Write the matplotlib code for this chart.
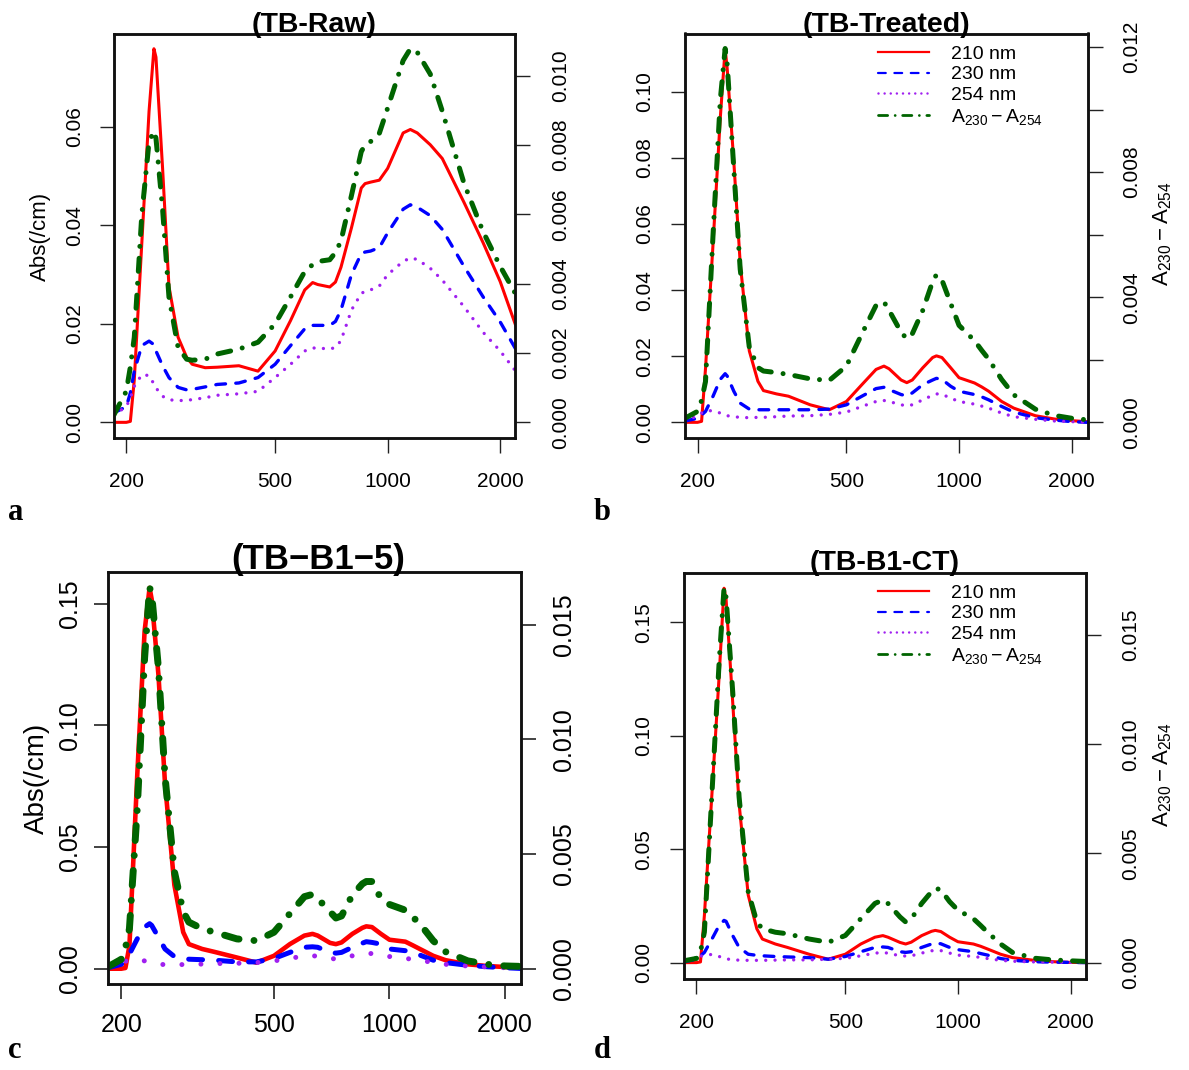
import matplotlib
matplotlib.use("Agg")
import matplotlib.pyplot as plt
from matplotlib.lines import Line2D
from matplotlib.ticker import NullLocator

plt.rcParams['font.family'] = ['Liberation Sans', 'DejaVu Sans']
plt.rcParams['mathtext.fontset'] = 'custom'
plt.rcParams['mathtext.rm'] = 'Liberation Sans'
plt.rcParams['mathtext.it'] = 'Liberation Sans:italic'
plt.rcParams['mathtext.bf'] = 'Liberation Sans:bold'
plt.rcParams['lines.scale_dashes'] = False

# ---------------- data ----------------
mw_da = [185, 200, 205, 210, 220, 230, 237, 240, 250, 260,
         275, 290, 300, 325, 350, 400, 450, 500, 550, 600,
         630, 650, 700, 725, 750, 800, 850, 870, 900, 950,
         1000, 1100, 1150, 1200, 1300, 1400, 1600, 1800, 2000, 2200]

raw_210 = [0, 0, 0.0002, 0.0086, 0.0365, 0.0632, 0.0759, 0.0742, 0.0516, 0.0276,
           0.0173, 0.0132, 0.0118, 0.0111, 0.0112, 0.0115, 0.0104, 0.0145, 0.0207, 0.0269,
           0.0284, 0.0280, 0.0275, 0.0285, 0.0315, 0.0395, 0.0476, 0.0485, 0.0488, 0.0492,
           0.0516, 0.0588, 0.0595, 0.0588, 0.0564, 0.0536, 0.0447, 0.0365, 0.0286, 0.0197]
raw_230 = [0.0019, 0.0032, 0.0060, 0.0104, 0.0156, 0.0165, 0.0158, 0.0145, 0.0115, 0.0091,
           0.0071, 0.0066, 0.0067, 0.0072, 0.0077, 0.0080, 0.0091, 0.0118, 0.0156, 0.0190,
           0.0197, 0.0197, 0.0197, 0.0205, 0.0228, 0.0300, 0.0343, 0.0346, 0.0348, 0.0355,
           0.0385, 0.0433, 0.0442, 0.0437, 0.0420, 0.0392, 0.0317, 0.0255, 0.0204, 0.0149]
raw_254 = [0.0015, 0.0032, 0.0050, 0.0073, 0.0097, 0.0095, 0.0078, 0.0070, 0.0053, 0.0046,
           0.0044, 0.0045, 0.0046, 0.0050, 0.0055, 0.0058, 0.0063, 0.0091, 0.0118, 0.0145,
           0.0151, 0.0151, 0.0149, 0.0152, 0.0166, 0.0228, 0.0262, 0.0266, 0.0269, 0.0277,
           0.0300, 0.0327, 0.0334, 0.0331, 0.0313, 0.0289, 0.0235, 0.0183, 0.0145, 0.0104]
raw_diff = [0.0002, 0.0009, 0.0016, 0.00245, 0.0060, 0.0081, 0.0084, 0.0082, 0.00615, 0.00362,
            0.00216, 0.00182, 0.00179, 0.00182, 0.00197, 0.00211, 0.00231, 0.00284, 0.00362, 0.00435,
            0.00455, 0.00464, 0.00469, 0.0049, 0.00523, 0.00654, 0.00781, 0.0080, 0.0081, 0.00834,
            0.00907, 0.01044, 0.01078, 0.01068, 0.01005, 0.00898, 0.0069, 0.0055, 0.0045, 0.0037]

treated_210 = [0, 0, 0.0003, 0.0162, 0.054, 0.092, 0.113, 0.107, 0.0788, 0.0482,
               0.0216, 0.0124, 0.0096, 0.0086, 0.0079, 0.0053, 0.0038, 0.0063, 0.0114, 0.0160,
               0.0170, 0.0162, 0.0128, 0.0120, 0.0128, 0.0165, 0.0196, 0.0201, 0.0196, 0.0165,
               0.0135, 0.0119, 0.0107, 0.0094, 0.0063, 0.0043, 0.0020, 0.0010, 0.0005, 0.0002]
treated_230 = [0.0004, 0.0012, 0.0022, 0.0033, 0.0079, 0.0130, 0.0147, 0.0140, 0.0094, 0.0058,
               0.0040, 0.0038, 0.0038, 0.0038, 0.0038, 0.0038, 0.0040, 0.0053, 0.0079, 0.0102,
               0.0106, 0.0099, 0.0084, 0.0080, 0.0089, 0.0114, 0.0128, 0.0133, 0.0130, 0.0109,
               0.0094, 0.0084, 0.0077, 0.0068, 0.0048, 0.0031, 0.0014, 0.0007, 0.0002, 0.0000]
treated_254 = [0.0004, 0.0020, 0.0028, 0.0035, 0.0035, 0.0028, 0.0022, 0.0020, 0.0017, 0.0015,
               0.0014, 0.0015, 0.0015, 0.0017, 0.0019, 0.0020, 0.0024, 0.0031, 0.0048, 0.0063,
               0.0066, 0.0063, 0.0053, 0.0050, 0.0053, 0.0068, 0.0082, 0.0086, 0.0085, 0.0073,
               0.0063, 0.0055, 0.0049, 0.0043, 0.0028, 0.0017, 0.0009, 0.0004, 0.0002, 0.0000]
treated_diff = [0.00013, 0.00035, 0.0007, 0.0013, 0.0060, 0.0103, 0.01195, 0.01146, 0.0081, 0.0049,
                0.0024, 0.00175, 0.00164, 0.00159, 0.00153, 0.00139, 0.00134, 0.0018, 0.00283, 0.00374,
                0.00385, 0.00358, 0.00288, 0.00267, 0.00283, 0.00358, 0.0045, 0.00472, 0.00455, 0.0038,
                0.0031, 0.00261, 0.0023, 0.00202, 0.00137, 0.00088, 0.00042, 0.00022, 0.00013, 0.00008]

b15_210 = [0, 0, 0.0003, 0.0094, 0.0789, 0.1386, 0.1565, 0.1518, 0.1206, 0.0761,
           0.0344, 0.0150, 0.0101, 0.0081, 0.0069, 0.0046, 0.0025, 0.0053, 0.0101, 0.0136,
           0.0143, 0.0136, 0.0106, 0.0101, 0.0108, 0.0143, 0.0168, 0.0174, 0.0171, 0.0143,
           0.0119, 0.0111, 0.0096, 0.0081, 0.0053, 0.0035, 0.0018, 0.0011, 0.0007, 0.0004]
b15_230 = [0.0004, 0.0018, 0.0035, 0.0060, 0.0122, 0.0171, 0.0185, 0.0178, 0.0129, 0.0081,
           0.0050, 0.0042, 0.0039, 0.0037, 0.0035, 0.0028, 0.0028, 0.0042, 0.0067, 0.0088,
           0.0090, 0.0088, 0.0067, 0.0064, 0.0067, 0.0088, 0.0105, 0.0111, 0.0108, 0.0101,
           0.0081, 0.0074, 0.0065, 0.0056, 0.0035, 0.0025, 0.0014, 0.0008, 0.0004, 0.0001]
b15_254 = [0.0004, 0.0018, 0.0030, 0.0039, 0.0039, 0.0032, 0.0025, 0.0023, 0.0018, 0.0017,
           0.0017, 0.0017, 0.0017, 0.0019, 0.0021, 0.0022, 0.0025, 0.0032, 0.0042, 0.0053,
           0.0054, 0.0050, 0.0042, 0.0040, 0.0042, 0.0053, 0.0061, 0.0064, 0.0062, 0.0056,
           0.0050, 0.0042, 0.0039, 0.0035, 0.0025, 0.0018, 0.0011, 0.0007, 0.0004, 0.0003]
b15_diff = [0.00009, 0.00041, 0.0009, 0.00174, 0.0069, 0.01353, 0.01662, 0.01633, 0.01308, 0.00837,
            0.00424, 0.00248, 0.00203, 0.00174, 0.00159, 0.0013, 0.00122, 0.00159, 0.0024, 0.00314,
            0.00324, 0.00306, 0.00248, 0.00221, 0.0023, 0.00321, 0.0037, 0.0038, 0.0038, 0.00306,
            0.0028, 0.00255, 0.00225, 0.00196, 0.00122, 0.00074, 0.00034, 0.00019, 0.00012, 0.0001]

ct_210 = [0, 0, 0.0003, 0.0208, 0.0745, 0.1266, 0.1650, 0.1601, 0.1147, 0.0700,
          0.0298, 0.0149, 0.0104, 0.0082, 0.0067, 0.0037, 0.0015, 0.0037, 0.0082, 0.0112,
          0.0119, 0.0112, 0.0089, 0.0082, 0.0090, 0.0119, 0.0138, 0.0142, 0.0137, 0.0112,
          0.0092, 0.0082, 0.0072, 0.0060, 0.0037, 0.0022, 0.0010, 0.0004, 0.0001, 0.0000]
ct_230 = [0.0003, 0.0015, 0.0030, 0.0045, 0.0104, 0.0164, 0.0186, 0.0182, 0.0119, 0.0067,
          0.0037, 0.0032, 0.0030, 0.0027, 0.0025, 0.0022, 0.0015, 0.0027, 0.0048, 0.0067,
          0.0069, 0.0067, 0.0048, 0.0045, 0.0048, 0.0067, 0.0082, 0.0086, 0.0083, 0.0067,
          0.0057, 0.0048, 0.0040, 0.0033, 0.0018, 0.0010, 0.0004, 0.0002, 0.0001, 0.0000]
ct_254 = [0.0004, 0.0018, 0.0028, 0.0033, 0.0036, 0.0027, 0.0019, 0.0017, 0.0012, 0.0011,
          0.0010, 0.0010, 0.0010, 0.0011, 0.0012, 0.0012, 0.0015, 0.0019, 0.0030, 0.0042,
          0.0044, 0.0042, 0.0030, 0.0029, 0.0030, 0.0042, 0.0052, 0.0055, 0.0053, 0.0042,
          0.0033, 0.0027, 0.0023, 0.0018, 0.0010, 0.0006, 0.0003, 0.0002, 0.0001, 0.0000]
ct_diff = [0.00008, 0.00019, 0.0005, 0.0014, 0.00775, 0.01379, 0.01717, 0.01674, 0.0124, 0.00759,
           0.00325, 0.00186, 0.00155, 0.00139, 0.00132, 0.00108, 0.00093, 0.00124, 0.00201, 0.00271,
           0.00287, 0.00271, 0.00209, 0.00186, 0.0020, 0.00271, 0.00325, 0.00341, 0.00333, 0.00279,
           0.0024, 0.00201, 0.0017, 0.00139, 0.00085, 0.00046, 0.0002, 0.00012, 0.00008, 0.00005]

x_ticks = [200, 500, 1000, 2000]
x_tick_labels = ['200', '500', '1000', '2000']
legend_labels = ['210 nm', '230 nm', '254 nm', r'$\mathrm{A_{230} - A_{254}}$']

# ---------------- layout ----------------
W, H = 1189, 1070
RED, BLUE, PURPLE, GREEN = '#FF0000', '#0000FF', '#A020F0', '#006400'


def rect(l, t, r, b):
    return [l / W, 1 - b / H, (r - l) / W, (b - t) / H]


thin = dict(red=dict(lw=2.2), blue=dict(lw=2.4, dashes=(7.0, 7.4)),
            purple=dict(lw=2.4, dashes=(0.01, 6.7)),
            green=dict(lw=3.6, dashes=(9.4, 8.6, 0.01, 8.6)))
thick = dict(red=dict(lw=3.3), blue=dict(lw=3.6, dashes=(10.0, 11.6)),
             purple=dict(lw=3.6, dashes=(0.01, 13.7)),
             green=dict(lw=5.0, dashes=(10.8, 10.8, 0.01, 10.8)))

panels = [
    dict(title='(TB-Raw)', title_fs=20.5, title_xy=(314, 32), letter='a', letter_xy=(8, 520),
         box=(113.7, 33.5, 515.3, 437.5), xlim=(185, 2195),
         ylim=(-0.00308, 0.0790), ylim2=(-0.00044, 0.01122),
         yticks=[0, 0.02, 0.04, 0.06], ylabels=['0.00', '0.02', '0.04', '0.06'],
         yticks2=[0, 0.002, 0.004, 0.006, 0.008, 0.010],
         ylabels2=['0.000', '0.002', '0.004', '0.006', '0.008', '0.010'],
         series=(raw_210, raw_230, raw_254, raw_diff), style=thin, fs=15,
         lpad=11, bpad=14, rpad=15, ylabel=('Abs(/cm)', 40, 236, 16), ylabel2=None, legend=None),
    dict(title='(TB-Treated)', title_fs=20.5, title_xy=(886, 32), letter='b', letter_xy=(594, 520),
         box=(684.9, 33.5, 1087.5, 437.5), xlim=(185, 2205),
         ylim=(-0.00459, 0.1176), ylim2=(-0.000485, 0.01243),
         yticks=[0, 0.02, 0.04, 0.06, 0.08, 0.10],
         ylabels=['0.00', '0.02', '0.04', '0.06', '0.08', '0.10'],
         yticks2=[0, 0.002, 0.004, 0.006, 0.008, 0.010, 0.012],
         ylabels2=['0.000', '', '0.004', '', '0.008', '', '0.012'],
         series=(treated_210, treated_230, treated_254, treated_diff), style=thin, fs=15,
         lpad=12, bpad=14, rpad=14, ylabel=None, ylabel2=(1163, 234, 16), legend=(878, 45)),
    dict(title='(TB\u2212B1\u22125)', title_fs=25, title_xy=(318, 569), letter='c', letter_xy=(8, 1058),
         box=(108.3, 572, 520.5, 983.5), xlim=(185, 2195),
         ylim=(-0.00608, 0.1630), ylim2=(-0.000645, 0.01729),
         yticks=[0, 0.05, 0.10, 0.15], ylabels=['0.00', '0.05', '0.10', '0.15'],
         yticks2=[0, 0.005, 0.010, 0.015], ylabels2=['0.000', '0.005', '0.010', '0.015'],
         series=(b15_210, b15_230, b15_254, b15_diff), style=thick, fs=18,
         lpad=9, bpad=11, rpad=12, ylabel=('Abs(/cm)', 37, 778, 20), ylabel2=None, legend=None),
    dict(title='(TB-B1-CT)', title_fs=20.5, title_xy=(885, 570), letter='d', letter_xy=(594, 1058),
         box=(683.8, 572.8, 1086.4, 978.5), xlim=(185, 2205),
         ylim=(-0.0070, 0.1718), ylim2=(-0.00073, 0.01786),
         yticks=[0, 0.05, 0.10, 0.15], ylabels=['0.00', '0.05', '0.10', '0.15'],
         yticks2=[0, 0.005, 0.010, 0.015], ylabels2=['0.000', '0.005', '0.010', '0.015'],
         series=(ct_210, ct_230, ct_254, ct_diff), style=thin, fs=15,
         lpad=12, bpad=14, rpad=14, ylabel=None, ylabel2=(1163, 775, 16), legend=(878, 584)),
]

fig = plt.figure(figsize=(W / 100, H / 100), dpi=100)

for p in panels:
    ax = fig.add_axes(rect(*p['box']))
    ax2 = ax.twinx()
    st = p['style']
    s210, s230, s254, sdiff = p['series']

    ax.plot(mw_da, s210, color=RED, solid_capstyle='round', solid_joinstyle='round', **st['red'])
    ax.plot(mw_da, s230, color=BLUE, dash_capstyle='round', dash_joinstyle='round', **st['blue'])
    ax.plot(mw_da, s254, color=PURPLE, dash_capstyle='round', dash_joinstyle='round', **st['purple'])
    ax2.plot(mw_da, sdiff, color=GREEN, dash_capstyle='round', dash_joinstyle='round', **st['green'])

    for a in (ax, ax2):
        a.set_xscale('log')
        a.set_xlim(*p['xlim'])
        for sp in a.spines.values():
            sp.set_linewidth(1.8)
            sp.set_color('#111111')
    ax.set_ylim(*p['ylim'])
    ax2.set_ylim(*p['ylim2'])

    ax.set_xticks(x_ticks)
    ax.set_xticklabels(x_tick_labels, fontsize=p['fs'])
    ax.xaxis.set_minor_locator(NullLocator())
    ax.set_yticks(p['yticks'])
    ax.set_yticklabels(p['ylabels'], fontsize=p['fs'], rotation=90, va='center')
    ax2.set_yticks(p['yticks2'])
    ax2.set_yticklabels(p['ylabels2'], fontsize=p['fs'], rotation=90, va='center')
    ax2.yaxis.set_minor_locator(NullLocator())
    ax.yaxis.set_minor_locator(NullLocator())

    tw = 1.2 if p['style'] is thick else 1.0
    ax.tick_params(axis='x', direction='out', length=10.5, width=tw, pad=p['bpad'], color='#222222')
    ax.tick_params(axis='y', direction='out', length=10.0, width=tw, pad=p['lpad'], color='#222222')
    ax2.tick_params(axis='y', direction='out', length=11.0, width=tw, pad=p['rpad'], color='#222222')

    tx, ty = p['title_xy']
    fig.text(tx / W, 1 - ty / H, p['title'], fontsize=p['title_fs'], fontweight='bold',
             ha='center', va='baseline')
    lx, ly = p['letter_xy']
    fig.text(lx / W, 1 - ly / H, p['letter'], fontsize=22, fontweight='bold',
             family=['Liberation Serif', 'DejaVu Serif'], ha='left', va='baseline')

    if p['ylabel']:
        txt, yx, yy, yfs = p['ylabel']
        fig.text(yx / W, 1 - yy / H, txt, fontsize=yfs, rotation=90, ha='center', va='center')
    if p['ylabel2']:
        yx, yy, yfs = p['ylabel2']
        fig.text(yx / W, 1 - yy / H, legend_labels[3], fontsize=yfs, rotation=90,
                 ha='center', va='center')

    if p['legend']:
        gx, gy = p['legend']
        handles = [
            Line2D([], [], color=RED, lw=1.6),
            Line2D([], [], color=BLUE, lw=1.6, dashes=(5.6, 6.2), dash_capstyle='round'),
            Line2D([], [], color=PURPLE, lw=1.8, dashes=(0.01, 4.4), dash_capstyle='round'),
            Line2D([], [], color=GREEN, lw=2.0, dashes=(6.6, 5.4, 0.01, 5.4), dash_capstyle='round'),
        ]
        ax2.legend(handles, legend_labels, loc='upper left', bbox_to_anchor=(gx / W, 1 - gy / H),
                   bbox_transform=fig.transFigure, frameon=False, borderpad=0, borderaxespad=0,
                   handlelength=2.6, handletextpad=1.15, labelspacing=0.16, fontsize=14)

fig.savefig('out.png', dpi=100)
